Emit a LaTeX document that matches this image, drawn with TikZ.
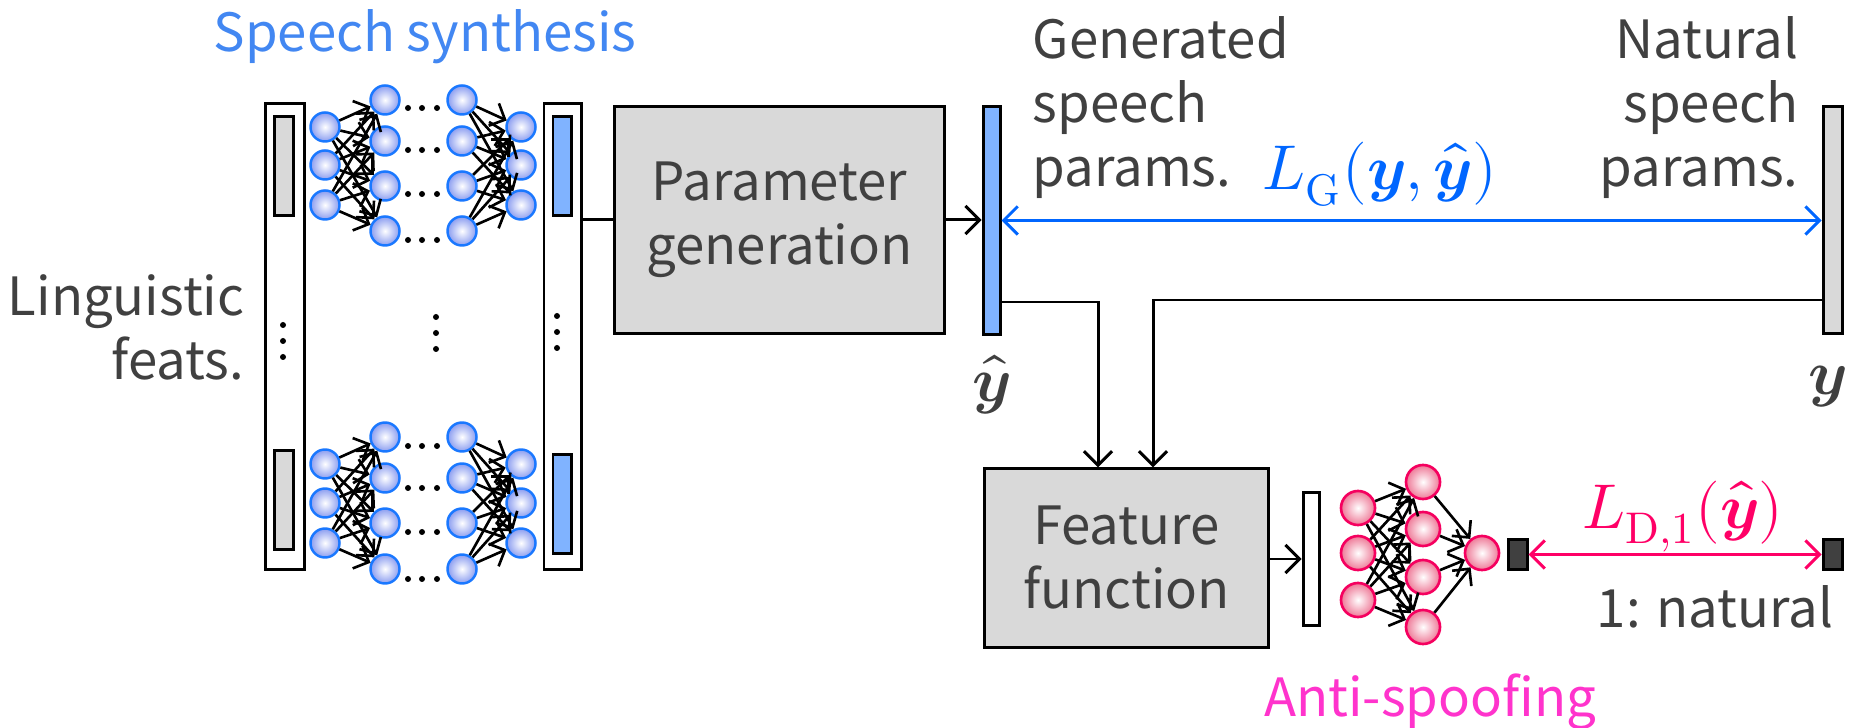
\documentclass[tikz,border=0pt]{standalone}
\usepackage{amsmath}
\usepackage{unicode-math}
\setmainfont{Noto Sans CJK JP}
\setmathfont{Latin Modern Math}
\usetikzlibrary{arrows.meta}
\definecolor{txt}{HTML}{404040}
\definecolor{sblue}{HTML}{4287F2}
\definecolor{lblue}{HTML}{0066FF}
\definecolor{cblue}{HTML}{1A78FF}
\definecolor{cbfill}{HTML}{8A9CF0}
\definecolor{barblue}{HTML}{80B3FF}
\definecolor{boxgray}{HTML}{D9D9D9}
\definecolor{lred}{HTML}{FF0066}
\definecolor{cred}{HTML}{F5005F}
\definecolor{crfill}{HTML}{EE7896}
\definecolor{pinkc}{HTML}{FF33CC}
\begin{document}
\begin{tikzpicture}[x=0.01cm,y=-0.01cm,
  bn/.style={circle,minimum size=0.29cm,inner sep=0,draw=cblue,line width=0.7pt,inner color=white,outer color=cbfill},
  rn/.style={circle,minimum size=0.34cm,inner sep=0,draw=cred,line width=0.75pt,inner color=white,outer color=crfill},
  na/.style={-{Straight Barb[length=3.5pt,width=7pt]},line width=0.75pt},
  conn/.style={line width=0.85pt},
  ca/.style={conn,-{Straight Barb[length=4pt,width=8pt]}},
  box/.style={draw,line width=0.85pt,inner sep=0},
  lbl/.style={font=\fontsize{15}{18.2}\selectfont,text=txt,inner sep=0},
  mth/.style={font=\fontsize{18}{20}\selectfont,inner sep=0},
]
\useasboundingbox (0,0) rectangle (1849,728);

% ---------- speech synthesis network ----------
\node[box,fill=white,minimum width=0.38cm,minimum height=4.65cm] (inbox) at (285,336.5) {};
\node[box,fill=boxgray,minimum width=0.19cm,minimum height=0.99cm] (ing1) at (284,166) {};
\node[box,fill=boxgray,minimum width=0.19cm,minimum height=0.99cm] (ing2) at (284,500) {};
\node[box,fill=white,minimum width=0.37cm,minimum height=4.65cm] (outbox) at (562.5,336.5) {};
\node[box,fill=barblue,minimum width=0.18cm,minimum height=0.99cm] (outb1) at (562,166) {};
\node[box,fill=barblue,minimum width=0.18cm,minimum height=0.99cm] (outb2) at (562,504) {};

\foreach \n/\y in {1/127,2/165,3/205}{
  \node[bn] (ui\n) at (325,\y) {};
  \node[bn] (uo\n) at (521,\y) {};
}
\foreach \n/\y in {1/464,2/503,3/543}{
  \node[bn] (li\n) at (325,\y) {};
  \node[bn] (lo\n) at (521,\y) {};
}
\foreach \n/\y in {1/100,2/141,3/186,4/231}{
  \node[bn] (uh\n) at (385,\y) {};
  \node[bn] (uk\n) at (462,\y) {};
}
\foreach \n/\y in {1/437,2/478,3/523,4/569}{
  \node[bn] (lh\n) at (385,\y) {};
  \node[bn] (lk\n) at (462,\y) {};
}
\foreach \i in {1,2,3}{
  \foreach \j in {1,2,3,4}{
    \draw[na] (ui\i) -- (uh\j);
    \draw[na] (uk\j) -- (uo\i);
    \draw[na] (li\i) -- (lh\j);
    \draw[na] (lk\j) -- (lo\i);
  }
}
% horizontal ellipses
\foreach \y in {108,150,194,240,446,488,532,579}{
  \foreach \x in {408,422,437}{\fill (\x,\y) circle[radius=3];}
}
% vertical ellipses
\foreach \x/\y in {283/325,283/341,283/357,436/317,436/333,436/349,557/316,557/332,557/348}{
  \fill (\x,\y) circle[radius=3];
}

% ---------- parameter generation ----------
\node[box,fill=boxgray,minimum width=3.29cm,minimum height=2.26cm] (pg) at (779.5,220) {};
\node[lbl,align=center] (pgt) at (pg) {Parameter\\generation};
\node[box,fill=barblue,minimum width=0.17cm,minimum height=2.27cm] (ybar) at (991.5,220.5) {};
\node[box,fill=boxgray,minimum width=0.19cm,minimum height=2.26cm] (nbar) at (1832.5,220) {};

\draw[conn] (outbox.east |- pg.west) -- (pg.west);
\draw[ca] (pg.east) -- (ybar.west |- pg.east);
\draw[conn,lblue,{Straight Barb[length=4pt,width=8pt]}-{Straight Barb[length=4pt,width=8pt]}] (ybar.east) -- (nbar.west |- ybar.east);

% ---------- feature function ----------
\node[box,fill=boxgray,minimum width=2.83cm,minimum height=1.78cm] (fb) at (1126.5,558) {};
\node[lbl,align=center] (fbt) at (fb) {Feature\\function};
\coordinate (c1) at (1098,302);
\coordinate (c2) at (1153,300);
\draw[ca] (ybar.east |- c1) -- (c1) -- (c1 |- fb.north);
\draw[ca] (nbar.west |- c2) -- (c2) -- (c2 |- fb.north);

% ---------- anti-spoofing network ----------
\node[box,fill=white,minimum width=0.16cm,minimum height=1.32cm] (abar) at (1311,559) {};
\draw[ca] (fb.east |- abar.west) -- (abar.west);
\foreach \n/\y in {1/508,2/553,3/600}{\node[rn] (ri\n) at (1358,\y) {};}
\foreach \n/\y in {1/482,2/529,3/577,4/627}{\node[rn] (rh\n) at (1423,\y) {};}
\node[rn] (ro) at (1482,553) {};
\foreach \i in {1,2,3}{\foreach \j in {1,2,3,4}{\draw[na] (ri\i) -- (rh\j);}}
\foreach \j in {1,2,3,4}{\draw[na] (rh\j) -- (ro);}
\node[box,fill=txt,minimum width=0.19cm,minimum height=0.30cm] (bb1) at (1517.5,554.5) {};
\node[box,fill=txt,minimum width=0.19cm,minimum height=0.30cm] (bb2) at (1832.5,554.5) {};
\draw[conn,lred,{Straight Barb[length=4pt,width=8pt]}-{Straight Barb[length=4pt,width=8pt]}] (bb1.east) -- (bb2.west);

% ---------- labels ----------
\node[lbl,text=sblue,anchor=base] (tss) at (425,52) {Speech synthesis};
\node[lbl,align=right,anchor=base east] (tling) at (245,380) {Linguistic\\feats.};
\node[lbl,align=left,anchor=base west] (tgen) at (1032,187) {Generated\\speech\\params.};
\node[lbl,align=right,anchor=base east] (tnat) at (1799,187) {Natural\\speech\\params.};
\node[lbl,anchor=base east] (tone) at (1834,627) {1: natural};
\node[lbl,text=pinkc,anchor=base] (tanti) at (1430,716) {Anti-spoofing};
\node[mth,text=lblue,anchor=base] (lg) at (1380,190) {$L_{\symup{G}}(\symbfit{y},\widehat{\symbfit{y}})$};
\node[mth,text=lred,anchor=base] (ld) at (1683,528) {$L_{\symup{D},1}(\widehat{\symbfit{y}})$};
\node[mth,text=txt] (yh) at (992,385) {$\widehat{\symbfit{y}}$};
\node[mth,text=txt] (yn) at (1828,387) {$\symbfit{y}$};
\end{tikzpicture}
\end{document}
